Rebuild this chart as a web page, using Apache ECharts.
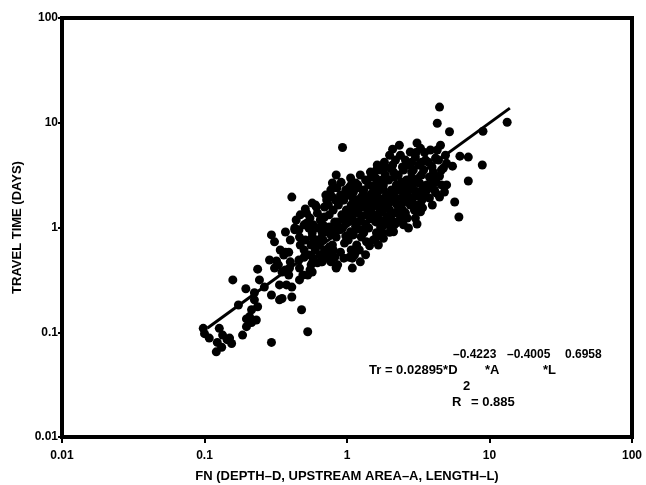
<!DOCTYPE html>
<html>
<head>
<meta charset="utf-8">
<script src="https://cdn.jsdelivr.net/npm/echarts@6/dist/echarts.min.js"></script>
<style>
  html, body { margin: 0; padding: 0; background: #fff; }
  #chart { width: 646px; height: 485px; }
</style>
</head>
<body>
<div id="chart"></div>
<script>
// FN (depth, upstream area, length) per observation
const fnValue = [
  0.098, 0.100, 0.108, 0.127, 0.134, 0.123, 0.121, 0.132, 0.150, 0.155,
  0.144, 0.185, 0.197, 0.197, 0.231, 0.214, 0.173, 0.295, 0.53, 0.48,
  0.158, 0.195, 0.224, 0.236, 0.243, 0.263, 0.286, 0.32, 0.31, 0.295,
  0.31, 0.35, 0.37, 0.336, 0.295, 0.35, 0.376, 0.41, 0.41, 0.464,
  0.49, 0.53, 0.57, 0.56, 0.62, 0.67, 0.84, 1.09, 0.82, 1.09,
  0.44, 0.43, 0.464, 0.52, 0.57, 0.61, 0.695, 0.224, 0.236, 0.207,
  0.214, 0.336, 0.395, 0.41,
  0.51, 0.50, 0.57, 0.62, 0.695, 0.79, 0.93, 0.59, 0.67, 0.75,
  0.84, 0.79, 0.72, 0.96, 1.07, 1.04, 1.17, 1.37, 1.61, 1.77,
  1.99, 2.15, 0.57, 0.66, 0.84,
  0.84, 0.79, 0.91, 0.85, 1.07, 1.19, 1.48, 1.63, 1.83, 2.09,
  1.69, 0.93, 1.04, 0.43, 0.57, 0.52, 0.61, 0.72, 0.695, 0.86, 0.75,
  4.46, 4.3, 5.24, 3.1, 3.05, 3.5, 4.3, 6.2, 7.1, 7.1,
  5.7, 6.1, 4.46, 3.1, 2.65, 2.33, 2.09, 1.99, 1.83, 2.84,
  3.34, 3.95, 4.6, 5.0, 3.79, 4.2, 2.84, 2.45, 1.61, 1.76,
  2.15, 2.62, 3.23, 3.63, 4.2, 3.36, 2.84, 2.45, 2.97, 2.45,
  2.2, 1.99, 2.2, 1.69, 1.61, 1.61, 13.3, 9.0, 8.9, 5.5, 5.0,
  0.90, 0.87, 0.92, 0.86, 0.89, 0.90, 0.98, 0.95, 0.99, 0.96, 0.93, 0.98, 0.95,
  1.06, 1.02, 1.07, 1.04, 1.01, 1.06, 1.02,
  1.15, 1.11, 1.17, 1.13, 1.09, 1.15, 1.11, 1.17, 1.13,
  1.24, 1.20, 1.26, 1.22, 1.18, 1.24, 1.20, 1.26, 1.22, 1.24,
  1.35, 1.31, 1.37, 1.33, 1.29, 1.35, 1.31, 1.35,
  1.46, 1.42, 1.48, 1.44, 1.40, 1.46, 1.42, 1.44,
  1.59, 1.53, 1.61, 1.56, 1.51, 1.59, 1.53,
  1.72, 1.66, 1.75, 1.69, 1.64, 1.72, 1.66,
  1.86, 1.80, 1.89, 1.83, 1.77, 1.86, 1.80,
  2.02, 1.96, 2.05, 1.99, 1.93, 2.02, 1.96,
  2.19, 2.12, 2.22, 2.15, 2.09, 2.19, 2.12,
  2.37, 2.29, 2.41, 2.33, 2.25, 2.37,
  2.57, 2.49, 2.61, 2.53, 2.45, 2.57, 2.49,
  2.78, 2.70, 2.83, 2.74, 2.65, 2.78, 2.70,
  3.02, 2.92, 3.07, 2.97, 2.88, 3.02,
  3.28, 3.18, 3.33, 3.23, 3.13, 3.28,
  3.56, 3.45, 3.62, 3.50, 3.39, 3.85, 3.73, 3.91, 3.79,
  4.18, 4.04, 4.24, 4.11, 3.97, 4.53, 4.39, 4.46, 4.60, 4.91, 4.75, 4.83,
  0.55, 0.54, 0.56, 0.545, 0.55, 0.60, 0.58, 0.60, 0.58,
  0.65, 0.63, 0.66, 0.64, 0.65, 0.71, 0.68, 0.71, 0.68, 0.71,
  0.77, 0.74, 0.75, 0.77, 0.74, 0.77, 0.83, 0.80, 0.82, 0.83, 0.80,
  0.47, 0.46, 0.47, 0.46, 0.464, 0.51, 0.50, 0.50,
  0.40, 0.39, 0.40, 0.39, 0.37, 0.36, 0.37, 0.34, 0.33,
  1.10, 1.30, 1.50, 1.70, 1.90, 2.10, 1.20, 1.40, 1.60, 1.80,
  1.30, 1.50, 1.70, 1.90, 2.30, 2.50, 1.60, 1.80, 2.00, 2.20,
  2.60, 2.90, 3.10, 2.70, 2.40, 2.90, 3.40, 1.00, 1.15, 1.30
];
// travel time (days), same order as fnValue
const travelTime = [
  0.109, 0.097, 0.088, 0.109, 0.094, 0.080, 0.065, 0.072, 0.088, 0.078,
  0.085, 0.094, 0.113, 0.134, 0.131, 0.164, 0.182, 0.080, 0.101, 0.164,
  0.316, 0.26, 0.238, 0.40, 0.316, 0.27, 0.49, 0.48, 0.41, 0.85,
  0.73, 0.376, 0.58, 0.283, 0.227, 0.21, 0.283, 0.27, 0.217, 0.316,
  0.352, 0.352, 0.376, 0.44, 0.46, 0.47, 0.41, 0.41, 0.52, 0.51,
  1.18, 0.99, 0.81, 1.37, 0.89, 0.76, 0.61, 0.204, 0.175, 0.141,
  0.124, 0.204, 0.41, 1.95,
  1.5, 1.06, 1.71, 1.37, 1.57, 1.95, 1.83, 0.76, 0.89, 1.01,
  0.81, 0.68, 0.61, 0.71, 0.61, 0.52, 0.65, 0.73, 0.81, 0.90,
  0.90, 1.06, 0.46, 0.47, 0.42,
  3.17, 2.66, 2.7, 2.39, 2.55, 2.55, 3.03, 3.95, 3.78, 3.95,
  2.66, 5.8, 2.43, 0.95, 0.81, 1.10, 1.57, 1.83, 1.26, 0.44, 0.65,
  14.1, 9.9, 8.2, 6.4, 5.2, 5.2, 5.5, 4.8, 4.7, 2.78,
  1.75, 1.26, 1.95, 1.08, 1.23, 6.1, 5.6, 4.9, 4.2, 4.2,
  4.2, 3.78, 3.54, 4.1, 3.03, 2.72, 3.38, 3.78, 3.54, 2.84,
  3.03, 2.84, 2.66, 2.28, 2.14, 1.83, 1.83, 1.95, 1.47, 1.47,
  1.71, 1.47, 1.1, 1.18, 1.83, 0.89, 10.1, 8.3, 3.95, 3.85, 2.55,
  2.04, 1.64, 1.32, 1.13, 0.95, 0.58, 2.28, 1.83, 1.47, 1.18, 0.99, 0.83, 0.51,
  2.97, 2.04, 1.64, 1.38, 1.13, 0.91, 0.76,
  2.66, 2.18, 1.83, 1.54, 1.23, 1.03, 0.85, 0.68, 0.55,
  3.17, 2.39, 1.95, 1.64, 1.38, 1.15, 0.97, 0.81, 0.61, 0.47,
  2.84, 2.28, 1.91, 1.57, 1.29, 1.08, 0.89, 0.55,
  3.38, 2.55, 2.09, 1.75, 1.44, 1.21, 0.99, 0.67,
  2.97, 2.39, 2.0, 1.64, 1.35, 1.13, 0.76,
  3.54, 2.23, 1.87, 1.54, 1.29, 1.01, 0.68,
  3.17, 2.55, 2.04, 1.71, 1.41, 1.18, 0.79,
  3.7, 2.84, 2.28, 1.91, 1.60, 1.29, 1.06,
  4.4, 3.38, 2.55, 2.14, 1.79, 1.38, 0.91,
  4.9, 3.17, 2.72, 2.28, 1.64, 1.23,
  4.4, 3.54, 2.44, 2.14, 1.71, 1.38, 1.06,
  5.26, 3.95, 2.97, 2.49, 2.04, 1.64, 0.99,
  4.7, 3.54, 2.84, 2.28, 1.91, 1.23,
  5.7, 3.95, 3.17, 2.18, 1.64, 1.41,
  4.4, 3.54, 2.55, 2.04, 1.54, 5.5, 4.2, 2.55, 1.91,
  4.6, 3.38, 2.97, 2.28, 1.64, 6.1, 4.4, 3.1, 2.55, 4.9, 3.7, 2.18,
  1.23, 0.99, 0.68, 0.547, 0.393, 1.64, 1.06, 0.61, 0.51,
  1.18, 0.99, 0.79, 0.68, 0.547, 2.04, 1.06, 0.91, 0.76, 0.51,
  2.28, 1.64, 1.32, 0.85, 0.547, 0.47, 1.83, 1.47, 1.13, 0.95, 0.61,
  1.32, 0.95, 0.68, 0.49, 0.41, 0.76, 0.61, 0.52,
  0.76, 0.58, 0.47, 0.352, 0.906, 0.547, 0.393, 0.61, 0.44,
  1.90, 1.75, 1.55, 1.40, 1.25, 1.15, 1.45, 1.30, 1.20, 1.05,
  2.10, 1.90, 1.75, 1.60, 1.45, 1.30, 2.60, 2.30, 2.05, 1.90,
  1.85, 1.65, 2.00, 2.25, 2.55, 2.60, 2.35, 1.25, 1.10, 0.95
];
// regression line end points
const fitFn = [0.105, 13.9];
const fitTime = [0.11, 13.8];
// tick labels (one per decade)
const tickLabels = ["0.01", "0.1", "1", "10", "100"];

const fontFamily = '"Liberation Sans", Arial, sans-serif';
const tickFmt = (v) => tickLabels[Math.round(Math.log10(v)) + 2];

// one piece of the equation text
const eqText = (x, y, text, size) => ({
  type: "text", x, y, z: 100,
  style: {
    text, fill: "#000",
    fontSize: size, fontWeight: "bold", fontFamily,
    textVerticalAlign: "middle",
  },
});

const chart = echarts.init(document.getElementById("chart"));
const option = {
  animation: false,
  grid: {
    left: 62, right: 14, top: 18, bottom: 48,
    outerBoundsMode: "none",
    show: true, borderColor: "#000", borderWidth: 4,
  },
  xAxis: {
    type: "log", logBase: 10, min: 0.01, max: 100,
    name: "FN (DEPTH–D, UPSTREAM AREA–A, LENGTH–L)",
    nameLocation: "middle", nameGap: 33,
    nameTextStyle: { color: "#000", fontWeight: "bold", fontSize: 13, fontFamily },
    axisLine: { show: true, lineStyle: { color: "#000", width: 4 } },
    axisTick: { show: true, length: 6, lineStyle: { color: "#000", width: 2 } },
    minorTick: { show: false },
    splitLine: { show: false },
    axisLabel: { color: "#000", fontWeight: "bold", fontSize: 12, fontFamily, margin: 13, formatter: tickFmt },
  },
  yAxis: {
    type: "log", logBase: 10, min: 0.01, max: 100,
    name: "TRAVEL TIME (DAYS)",
    nameLocation: "middle", nameGap: 38,
    nameTextStyle: { color: "#000", fontWeight: "bold", fontSize: 13, fontFamily },
    axisLine: { show: true, lineStyle: { color: "#000", width: 4 } },
    axisTick: { show: true, length: 4, lineStyle: { color: "#000", width: 2 } },
    minorTick: { show: false },
    splitLine: { show: false },
    axisLabel: { color: "#000", fontWeight: "bold", fontSize: 12, fontFamily, margin: 4, formatter: tickFmt },
  },
  series: [
    {
      type: "scatter",
      symbol: "circle",
      symbolSize: 9,
      itemStyle: { color: "#000", opacity: 1 },
      data: fnValue.map((x, i) => [x, travelTime[i]]),
    },
    {
      type: "line",
      symbol: "none",
      lineStyle: { color: "#000", width: 3 },
      data: fitFn.map((x, i) => [x, fitTime[i]]),
    },
  ],
  graphic: [
    eqText(369, 370, "Tr = 0.02895*D", 13),
    eqText(453, 355, "–0.4223", 12),
    eqText(485, 370, "*A", 13),
    eqText(507, 355, "–0.4005", 12),
    eqText(543, 370, "*L", 13),
    eqText(565, 355, "0.6958", 12),
    eqText(452, 402, "R", 13),
    eqText(463, 386, "2", 13),
    eqText(471, 402, "= 0.885", 13),
  ],
};
chart.setOption(option);
</script>
</body>
</html>
